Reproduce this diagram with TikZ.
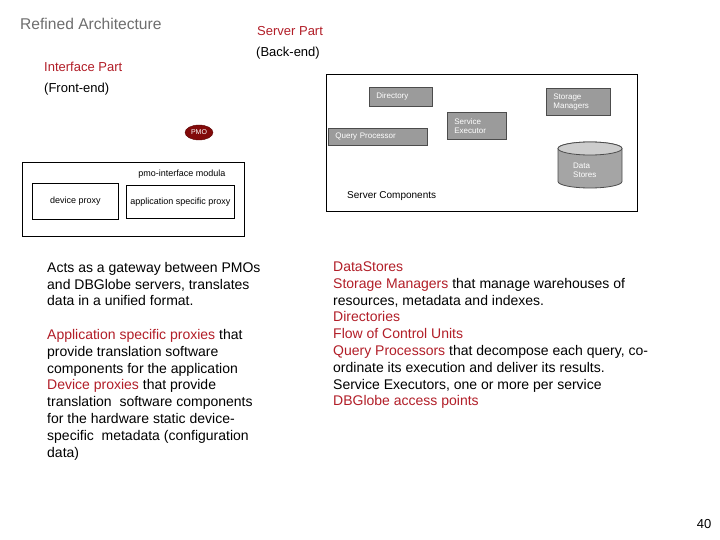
\documentclass[tikz,border=0pt]{standalone}
\usepackage{fontspec}
\usetikzlibrary{shapes.geometric}
\setmainfont{Liberation Sans}
\definecolor{dkred}{RGB}{178,30,40}
\definecolor{titlegray}{RGB}{110,110,110}
\definecolor{compgray}{RGB}{155,155,155}
\definecolor{cylbody}{RGB}{165,165,165}
\definecolor{cyltop}{RGB}{205,205,205}
\definecolor{pmored}{RGB}{130,10,10}
\newcommand\redtxt[1]{\textcolor{dkred}{#1}}
\begin{document}
\begin{tikzpicture}[x=1pt,y=-1pt,
  frame/.style={draw=black, line width=0.8pt},
  compbox/.style={draw=black!70, fill=compgray, text=white, line width=0.8pt,
     font=\fontsize{8}{9}\selectfont, align=left, anchor=north west,
     inner xsep=7pt, inner ysep=0pt},
  plainlbl/.style={font=\fontsize{9}{10}\selectfont, inner sep=0pt},
  heading/.style={font=\fontsize{13}{15}\selectfont, anchor=west, inner sep=0pt},
  para/.style={font=\fontsize{14}{16.8}\selectfont, align=left, anchor=north west, inner sep=0pt}]
\useasboundingbox[fill=white] (0,0) rectangle (720,540);

% headings
\node[heading, font=\fontsize{15.6}{17}\selectfont, text=titlegray] (title) at (20,24) {Refined Architecture};
\node[heading, text=dkred] (server) at (257,31) {Server Part};
\node[heading] (backend) at (256,53) {(Back-end)};
\node[heading, text=dkred] (iface) at (44,67) {Interface Part};
\node[heading] (frontend) at (44,89) {(Front-end)};

% PMO
\node[ellipse, draw=pmored!70!black, fill=pmored, text=white, minimum width=28pt, minimum height=15pt,
      inner sep=0pt, font=\fontsize{7}{8}\selectfont] (pmo) at (199,132.5) {PMO};

% interface module
\node[frame, anchor=north west, minimum width=222pt, minimum height=74pt, inner sep=0pt] (ifbox) at (22,162) {};
\node[plainlbl] (modlbl) at (182,174) {pmo-interface modula};
\node[frame, anchor=north west, minimum width=86pt, minimum height=36pt, inner sep=0pt, plainlbl] (devproxy) at (32,183) {device proxy};
\node[frame, anchor=north west, minimum width=108pt, minimum height=33pt, inner sep=0pt, plainlbl] (appproxy) at (126,185) {application specific proxy};

% server components
\node[frame, anchor=north west, minimum width=311pt, minimum height=137pt, inner sep=0pt] (srvbox) at (326,74) {};
\node[compbox, text width=49pt, minimum height=19pt] (dir) at (369,87) {Directory};
\node[compbox, text width=85pt, minimum height=17pt] (qp) at (328,128) {Query Processor};
\node[compbox, text width=45pt, minimum height=27pt] (se) at (447,112) {Service\\Executor};
\node[compbox, text width=50pt, minimum height=27pt] (sm) at (546,88) {Storage\\Managers};

% data stores cylinder
\fill[cylbody, draw=black!70, line width=0.8pt] (558,148.5) -- (558,181.5) arc[start angle=180, end angle=0, x radius=32, y radius=6.5] -- (622,148.5) arc[start angle=0, end angle=180, x radius=32, y radius=-6.5] -- cycle;
\draw[fill=cyltop, draw=black!70, line width=0.8pt] (590,148.5) ellipse[x radius=32, y radius=6.5];
\node[font=\fontsize{8}{9}\selectfont, text=white, align=left, anchor=west, inner sep=0pt] (ds) at (573,170.5) {Data\\Stores};

\node[plainlbl, font=\fontsize{10}{11}\selectfont, anchor=west] (srvlbl) at (347,196) {Server Components};

% paragraphs
\node[para] (leftpara) at (47,262) {Acts as a gateway between PMOs\\
and DBGlobe servers, translates\\
data in a unified format.\\[16.8pt]
\redtxt{Application specific proxies} that\\
provide translation software\\
components for the application\\
\redtxt{Device proxies} that provide\\
translation \ software components\\
for the hardware static device-\\
specific \ metadata (configuration\\
data)};

\node[para] (rightpara) at (333,261.5) {\redtxt{DataStores}\\
\redtxt{Storage Managers} that manage warehouses of\\
resources, metadata and indexes.\\
\redtxt{Directories}\\
\redtxt{Flow of Control Units}\\
\redtxt{Query Processors} that decompose each query, co-\\
ordinate its execution and deliver its results.\\
Service Executors, one or more per service\\
\redtxt{DBGlobe access points}};

\node[font=\fontsize{13}{15}\selectfont, inner sep=0pt] (pagenum) at (704,524) {40};
\end{tikzpicture}
\end{document}
